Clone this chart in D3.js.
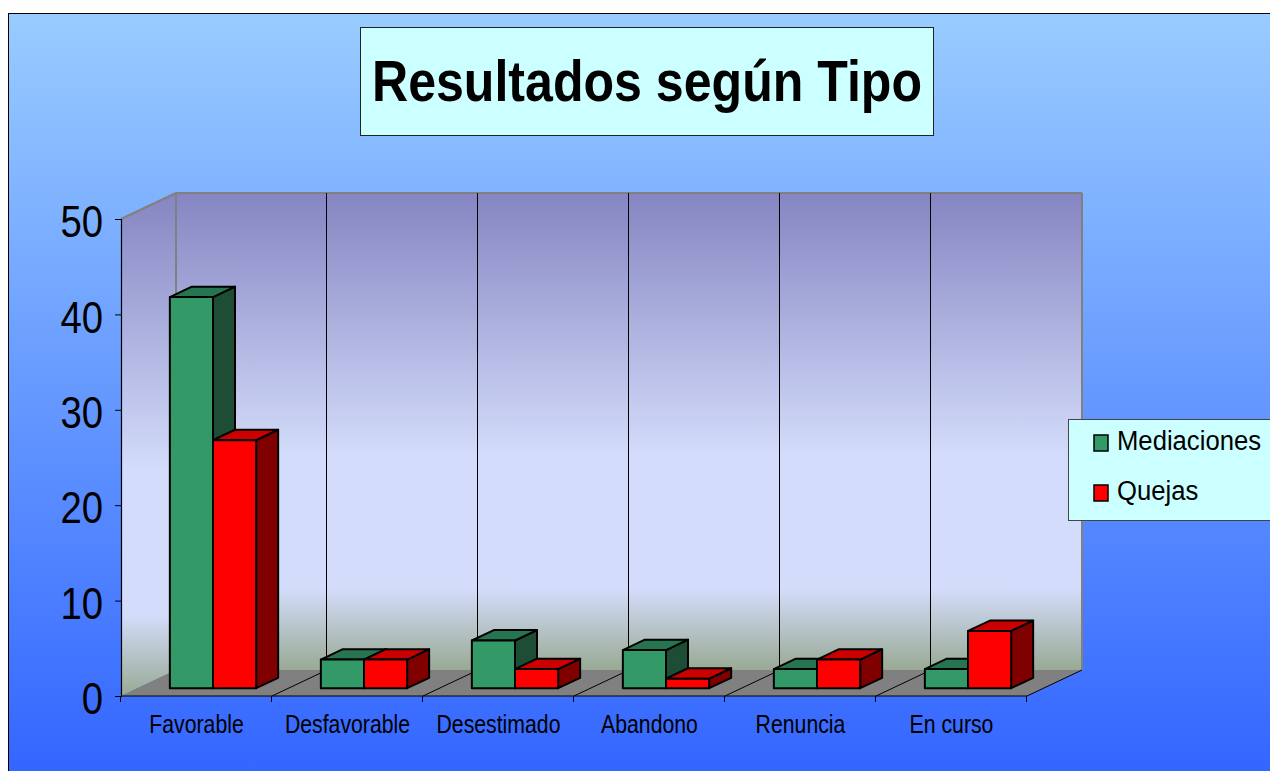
<!DOCTYPE html>
<html>
<head>
<meta charset="utf-8">
<script src="https://cdn.jsdelivr.net/npm/d3@7"></script>
<style>
  html, body { margin: 0; padding: 0; background: #fff; }
  svg { display: block; font-family: "Liberation Sans", Arial, sans-serif; }
</style>
</head>
<body>
<div id="chart"></div>
<script>
// --- data ---
const categories = ['Favorable', 'Desfavorable', 'Desestimado', 'Abandono', 'Renuncia', 'En curso'];
const seriesNames = ['Mediaciones', 'Quejas'];
const mediaciones = [41, 3, 5, 4, 2, 2];
const quejas = [26, 3, 2, 1, 3, 6];
const yTicks = [0, 10, 20, 30, 40, 50];
const title = 'Resultados según Tipo';

const W = 1270, H = 771;
// front plane of the 3d box, plus the depth offset of the back wall
const plot = { left: 121, right: 1027, top: 219, bottom: 696 };
const depth = { dx: 55, dy: -26 };
const barDepth = [0.3, 0.7]; // bars sit in the middle of the depth

const colors = {
  Mediaciones: { front: '#339966', top: '#277550', side: '#1d4d34' },
  Quejas: { front: '#ff0000', top: '#cc0000', side: '#800000' }
};

const svg = d3.select('#chart').append('svg')
  .attr('width', W).attr('height', H);

const defs = svg.append('defs');
const bg = defs.append('linearGradient').attr('id', 'bg')
  .attr('gradientUnits', 'userSpaceOnUse')
  .attr('x1', 0).attr('y1', 13).attr('x2', 0).attr('y2', H);
bg.append('stop').attr('offset', '0%').attr('stop-color', '#99ccff');
bg.append('stop').attr('offset', '100%').attr('stop-color', '#3366ff');

const wall = defs.append('linearGradient').attr('id', 'wall')
  .attr('gradientUnits', 'userSpaceOnUse')
  .attr('x1', 0).attr('y1', plot.top + depth.dy).attr('x2', 0).attr('y2', plot.bottom + depth.dy);
wall.append('stop').attr('offset', '0%').attr('stop-color', '#8585c2');
wall.append('stop').attr('offset', '55%').attr('stop-color', '#d3dcfa');
wall.append('stop').attr('offset', '83%').attr('stop-color', '#d3dcfa');
wall.append('stop').attr('offset', '100%').attr('stop-color', '#98aa94');

const sideWall = defs.append('linearGradient').attr('id', 'sidewall')
  .attr('x1', 0).attr('y1', 0).attr('x2', 0).attr('y2', 1);
sideWall.append('stop').attr('offset', '0%').attr('stop-color', '#8585c2');
sideWall.append('stop').attr('offset', '55%').attr('stop-color', '#d3dcfa');
sideWall.append('stop').attr('offset', '84%').attr('stop-color', '#d3dcfa');
sideWall.append('stop').attr('offset', '100%').attr('stop-color', '#98aa94');

// chart area background
svg.append('rect')
  .attr('x', 8.5).attr('y', 13.5).attr('width', W).attr('height', H)
  .attr('fill', 'url(#bg)').attr('stroke', '#000').attr('stroke-width', 1);

// scales
const x = d3.scaleBand().domain(categories).range([plot.left, plot.right]);
const xs = d3.scaleBand().domain(seriesNames).range([0, x.bandwidth()]).paddingOuter(0.75);
const y = d3.scaleLinear().domain([0, 50]).range([plot.bottom, plot.top]);

const pt = (px, py, f) => [px + depth.dx * f, py + depth.dy * f];
const poly = pts => 'M' + pts.map(p => p.join(',')).join('L') + 'Z';

// text is drawn a bit narrower than the font, like the original
function squeeze(sel, k) {
  sel.each(function () {
    const w = this.getComputedTextLength();
    d3.select(this).attr('textLength', w * k).attr('lengthAdjust', 'spacingAndGlyphs');
  });
}

// --- walls and floor ---
const y0 = y(0), yTop = y(50);
svg.append('path')
  .attr('d', poly([pt(plot.left, yTop, 1), pt(plot.right, yTop, 1), pt(plot.right, y0, 1), pt(plot.left, y0, 1)]))
  .attr('fill', 'url(#wall)');
svg.append('path')
  .attr('d', poly([[plot.left, yTop], pt(plot.left, yTop, 1), pt(plot.left, y0, 1), [plot.left, y0]]))
  .attr('fill', 'url(#sidewall)');
svg.append('path')
  .attr('d', poly([[plot.left, y0], [plot.right, y0], pt(plot.right, y0, 1), pt(plot.left, y0, 1)]))
  .attr('fill', '#808080');

// wall border lines
const border = [
  [[plot.left, yTop], pt(plot.left, yTop, 1)],
  [pt(plot.left, yTop, 1), pt(plot.right, yTop, 1)],
  [pt(plot.right, yTop, 1), pt(plot.right, y0, 1)],
  [pt(plot.left, yTop, 1), pt(plot.left, y0, 1)]
];
svg.append('g').selectAll('line').data(border).join('line')
  .attr('x1', d => d[0][0]).attr('y1', d => d[0][1])
  .attr('x2', d => d[1][0]).attr('y2', d => d[1][1])
  .attr('stroke', '#808080').attr('stroke-width', 2);

// category gridlines on back wall and floor
const inner = categories.slice(1).map(c => x(c));
const grid = svg.append('g').attr('stroke', '#000').attr('stroke-width', 1);
grid.selectAll('.wall-grid').data(inner).join('line')
  .attr('class', 'wall-grid')
  .attr('x1', d => d + depth.dx - 0.5).attr('x2', d => d + depth.dx - 0.5)
  .attr('y1', yTop + depth.dy).attr('y2', y0 + depth.dy);
grid.selectAll('.floor-grid').data(inner.concat([plot.right])).join('line')
  .attr('class', 'floor-grid')
  .attr('x1', d => d).attr('y1', y0)
  .attr('x2', d => d + depth.dx).attr('y2', y0 + depth.dy);

// --- bars ---
const rows = [];
categories.forEach((c, i) => {
  rows.push({ cat: c, s: 'Mediaciones', v: mediaciones[i] });
  rows.push({ cat: c, s: 'Quejas', v: quejas[i] });
});

const bars = svg.append('g').selectAll('g').data(rows).join('g')
  .attr('stroke', '#000').attr('stroke-width', 2).attr('stroke-linejoin', 'round');

bars.each(function (d) {
  const g = d3.select(this);
  const xl = x(d.cat) + xs(d.s), xr = xl + xs.bandwidth();
  const yt = y(d.v), yb = y(0);
  const [f0, f1] = barDepth;
  const c = colors[d.s];
  g.append('path').attr('fill', c.side)
    .attr('d', poly([pt(xr, yt, f0), pt(xr, yt, f1), pt(xr, yb, f1), pt(xr, yb, f0)]));
  g.append('path').attr('fill', c.top)
    .attr('d', poly([pt(xl, yt, f0), pt(xl, yt, f1), pt(xr, yt, f1), pt(xr, yt, f0)]));
  g.append('path').attr('fill', c.front)
    .attr('d', poly([pt(xl, yt, f0), pt(xr, yt, f0), pt(xr, yb, f0), pt(xl, yb, f0)]));
});

// --- axes ---
const yAxis = svg.append('g')
  .attr('transform', `translate(${plot.left},0)`)
  .call(d3.axisLeft(y).tickValues(yTicks).tickSize(6).tickPadding(12).tickFormat(d3.format('d')));
yAxis.select('.domain').attr('stroke', '#000').attr('stroke-width', 1.2);
yAxis.selectAll('.tick line').attr('stroke', '#000');
yAxis.selectAll('.tick text')
  .attr('fill', '#000')
  .attr('font-size', 44)
  .attr('font-family', '"Liberation Sans", Arial, sans-serif')
  .attr('dy', '0.4em')
  .call(squeeze, 0.87);

svg.append('line')
  .attr('x1', plot.left).attr('x2', plot.right).attr('y1', y0).attr('y2', y0)
  .attr('stroke', '#000').attr('stroke-width', 1.2);
svg.append('g').selectAll('line').data(categories.map(c => x(c)).concat([plot.right])).join('line')
  .attr('x1', d => d - 0.5).attr('x2', d => d - 0.5).attr('y1', y0).attr('y2', y0 + 6)
  .attr('stroke', '#000');
svg.append('g').selectAll('text').data(categories).join('text')
  .attr('x', d => x(d) + x.bandwidth() / 2)
  .attr('y', 733)
  .attr('text-anchor', 'middle')
  .attr('font-size', 25)
  .attr('fill', '#000')
  .text(d => d)
  .call(squeeze, 0.85);

// --- title ---
svg.append('rect')
  .attr('x', 360.5).attr('y', 27.5).attr('width', 573).attr('height', 108)
  .attr('fill', '#ccffff').attr('stroke', '#222').attr('stroke-width', 1);
svg.append('text')
  .attr('x', 647).attr('y', 101)
  .attr('text-anchor', 'middle')
  .attr('font-size', 58).attr('font-weight', 'bold')
  .attr('fill', '#000')
  .text(title)
  .attr('textLength', 550).attr('lengthAdjust', 'spacingAndGlyphs');

// --- legend ---
const legend = svg.append('g').attr('transform', 'translate(1068,419)');
legend.append('rect')
  .attr('x', 0.5).attr('y', 0.5).attr('width', 240).attr('height', 101)
  .attr('fill', '#ccffff').attr('stroke', '#444').attr('stroke-width', 1);
const items = legend.selectAll('.item').data(seriesNames).join('g')
  .attr('class', 'item')
  .attr('transform', (d, i) => `translate(0,${i * 50})`);
items.append('rect')
  .attr('x', 26).attr('y', 16).attr('width', 14).attr('height', 16)
  .attr('fill', d => colors[d].front).attr('stroke', '#000').attr('stroke-width', 1.5);
items.append('text')
  .attr('x', 49).attr('y', 31)
  .attr('font-size', 27).attr('fill', '#000')
  .text(d => d)
  .call(squeeze, 0.95);
</script>
</body>
</html>
